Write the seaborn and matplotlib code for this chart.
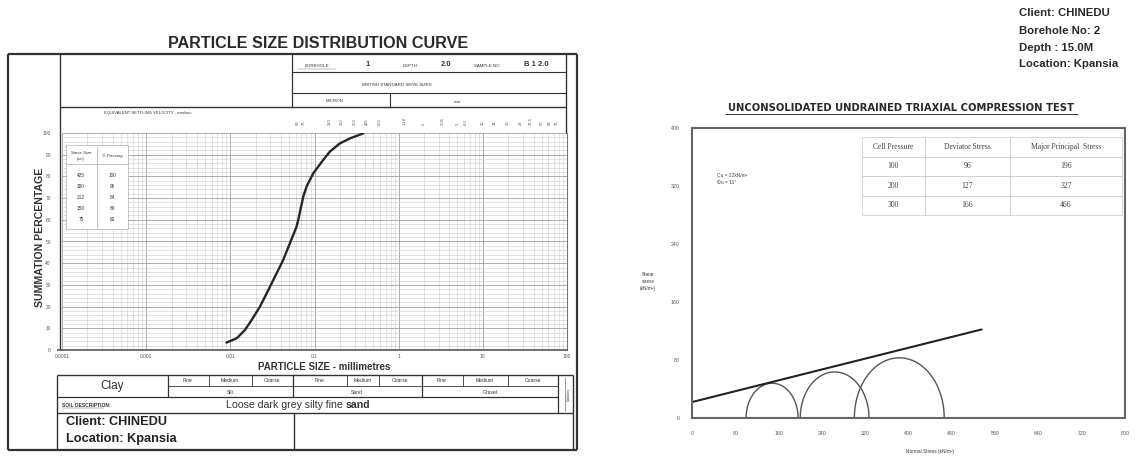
import numpy as np
import pandas as pd
import matplotlib
matplotlib.use('Agg')
import matplotlib.pyplot as plt
from matplotlib.ticker import FixedLocator, LogLocator, MultipleLocator, NullFormatter
import seaborn as sns

# grading curve (mm, % passing)
grain_size_mm = [0.0090, 0.0119, 0.0149, 0.0179, 0.0225, 0.0270, 0.0339, 0.0425, 0.0510,
                 0.0612, 0.0641, 0.0735, 0.0805, 0.0966, 0.127, 0.152, 0.200, 0.263, 0.379]
percent_passing = [3.4, 5.4, 9.2, 13.8, 20.0, 26.1, 33.8, 41.5, 49.2,
                   56.8, 59.9, 70.7, 75.3, 81.4, 87.6, 91.4, 95.2, 97.5, 99.8]

# small sieve table inside the grading chart
sieve_um = ['425', '300', '212', '150', '75']
sieve_passing = ['100', '96', '84', '80', '60']

size_ticks = [0.0001, 0.001, 0.01, 0.1, 1, 10, 100]
size_tick_labels = ['0.0001', '0.001', '0.01', '0.1', '1', '10', '100']
bs_sieves_um = [63, 75, 150, 212, 300, 425, 600]
bs_sieves_mm = [1.18, 2, 3.35, 5, 6.3, 10, 14, 20, 28, 37.5, 50, 63, 75]

# triaxial test
cell_pressure = [100, 200, 300]
deviator_stress = [96, 127, 166]
major_principal = [196, 327, 466]
cohesion = 22          # kN/m2
friction_deg = 10.6
envelope_end = 535

W, H = 1136, 461
DARK = '#333333'

sns.set_style('white')
plt.rcParams['font.family'] = ['Liberation Sans', 'DejaVu Sans']


def rect(x0, y0, x1, y1):
    return [x0 / W, 1 - y1 / H, (x1 - x0) / W, (y1 - y0) / H]


fig = plt.figure(figsize=(W / 100, H / 100), dpi=100)

# ---------------- particle size distribution ----------------
ax1 = fig.add_axes(rect(62, 133, 567, 350))
psd = pd.DataFrame({'size': grain_size_mm, 'passing': percent_passing})
sns.lineplot(data=psd, x='size', y='passing', ax=ax1, color='#262626', lw=1.7, zorder=4)
ax1.set_xscale('log')
ax1.set_xlim(1e-4, 100)
ax1.set_ylim(0, 100)
ax1.xaxis.set_major_locator(FixedLocator(size_ticks))
ax1.set_xticklabels(size_tick_labels)
ax1.xaxis.set_minor_locator(LogLocator(base=10, subs=range(2, 10), numticks=20))
ax1.xaxis.set_minor_formatter(NullFormatter())
ax1.yaxis.set_major_locator(MultipleLocator(10))
ax1.yaxis.set_minor_locator(MultipleLocator(2))
ax1.grid(which='major', color='#a0a0a0', lw=0.6)
ax1.grid(which='minor', color='#cccccc', lw=0.4)
ax1.tick_params(which='both', length=0)
ax1.tick_params(axis='x', labelsize=3.5, colors='#555', pad=3)
ax1.tick_params(axis='y', labelsize=3.5, colors='#555', pad=8)
ax1.set_xlabel('')
ax1.set_ylabel('')
for s in ['top', 'left']:
    ax1.spines[s].set_visible(False)
ax1.spines['bottom'].set_color('#555')
ax1.spines['bottom'].set_linewidth(1.2)
ax1.spines['right'].set_color('#777')
ax1.spines['right'].set_linewidth(0.8)

trans = ax1.get_xaxis_transform()
for s in bs_sieves_um:
    ax1.text(s / 1000, 1.035, str(s), transform=trans, rotation=90, fontsize=3,
             color='#555', ha='center', va='bottom')
for s in bs_sieves_mm:
    ax1.text(s, 1.035, str(s), transform=trans, rotation=90, fontsize=3,
             color='#555', ha='center', va='bottom')

# ---------------- triaxial Mohr circles ----------------
ax2 = fig.add_axes(rect(692, 128, 1125, 418))
t = np.linspace(0, np.pi, 120)
circles = []
for s3, s1 in zip(cell_pressure, major_principal):
    c, r = (s1 + s3) / 2, (s1 - s3) / 2
    circles.append(pd.DataFrame({'sigma': c + r * np.cos(t), 'tau': r * np.sin(t), 'test': s3}))
circles = pd.concat(circles)
sns.lineplot(data=circles, x='sigma', y='tau', units='test', estimator=None, sort=False,
             ax=ax2, color='#555555', lw=1.0)
sig = np.array([0, envelope_end])
env = pd.DataFrame({'sigma': sig, 'tau': cohesion + sig * np.tan(np.radians(friction_deg))})
sns.lineplot(data=env, x='sigma', y='tau', ax=ax2, color='#222222', lw=1.5)
ax2.set_xlim(0, 800)
ax2.set_ylim(0, 400)
ax2.set_xticks(range(0, 801, 80))
ax2.set_yticks(range(0, 401, 80))
ax2.tick_params(labelsize=3.8, colors='#555', length=2, width=0.4, pad=7)
ax2.set_xlabel('')
ax2.set_ylabel('')
for s in ax2.spines.values():
    s.set_color('#666')
    s.set_linewidth(1.5)

ax2.text(0.058, 0.825, f'Cu = {cohesion}kN/m²\nΦu = 11°', transform=ax2.transAxes,
         fontsize=3.5, color='#444', va='center', linespacing=1.4)

tbl_rows = [[str(a), str(b), str(c)] for a, b, c in zip(cell_pressure, deviator_stress, major_principal)]
tbl = ax2.table(cellText=tbl_rows,
                colLabels=['Cell Pressure', 'Deviator Stress', 'Major Principal  Stress'],
                colWidths=[0.24, 0.33, 0.43], cellLoc='center',
                bbox=[0.393, 0.70, 0.60, 0.268])
tbl.auto_set_font_size(False)
for (r, c), cell in tbl.get_celld().items():
    cell.set_edgecolor('#c8c8c8')
    cell.set_linewidth(0.5)
    cell.get_text().set_fontsize(5.5)
    cell.get_text().set_color('#444')
    cell.get_text().set_fontfamily(['Liberation Serif', 'DejaVu Serif'])

# ---------------- form / frames (pixel overlay) ----------------
lay = fig.add_axes([0, 0, 1, 1], zorder=5)
lay.set_xlim(0, W)
lay.set_ylim(H, 0)
lay.axis('off')
lay.patch.set_alpha(0)


def hl(y, x0, x1, lw=0.8, c=DARK):
    lay.plot([x0, x1], [y, y], color=c, lw=lw, solid_capstyle='butt')


def vl(x, y0, y1, lw=0.8, c=DARK):
    lay.plot([x, x], [y0, y1], color=c, lw=lw, solid_capstyle='butt')


def tx(x, y, s, size=4, **kw):
    kw.setdefault('ha', 'center')
    kw.setdefault('va', 'center')
    kw.setdefault('color', '#333')
    lay.text(x, y, s, fontsize=size, **kw)


# outer frame
hl(54, 8, 577, 1.6)
hl(450, 8, 577, 1.6)
vl(8, 54, 450, 1.6)
vl(577, 54, 450, 1.6)
vl(60, 54, 350, 1.0)
vl(566, 54, 133, 1.0)
hl(107, 60, 566, 1.0)

# header block
vl(292, 54, 107, 0.9)
hl(72, 292, 566, 0.8)
hl(93, 292, 566, 0.8)
vl(390, 93, 107, 0.8)
tx(317, 66, 'BOREHOLE', 3.2)
hl(69, 298, 336, 0.3, '#666')
tx(368, 64, '1', 5.5, fontweight='bold')
tx(410, 66, 'DEPTH', 3.2)
tx(446, 64, '2.0', 5.5, fontweight='bold')
tx(487, 66, 'SAMPLE NO', 3.2)
tx(536, 64, 'B 1 2.0', 5.5, fontweight='bold')
tx(397, 85, 'BRITISH STANDARD SIEVE SIZES', 3.2)
tx(335, 101, 'MICRON', 3.2)
tx(457, 102, 'mm', 3.2)
tx(148, 113, 'EQUIVALENT SETTLING VELOCITY - mm/sec', 3.0)

# titles
tx(318, 44, 'PARTICLE SIZE DISTRIBUTION CURVE', 11.6, fontweight='bold', color='#2a2a2a')
tx(40, 237, 'SUMMATION PERCENTAGE', 7.6, fontweight='bold', rotation=90)
tx(324, 367, 'PARTICLE SIZE - millimetres', 7, fontweight='bold')
hl(350, 57, 62, 1.2, '#555')

# sieve inset table
lay.add_patch(plt.Rectangle((66, 145), 62, 84, facecolor='white', edgecolor='#999', lw=0.4, zorder=1))
vl(97, 147, 229, 0.4, '#999')
hl(164, 66, 128, 0.4, '#999')
tx(81, 153, 'Sieve Size', 3.2)
tx(81, 159, '(µm)', 2.6)
tx(112, 156, '% Passing', 3.2)
for i, (a, b) in enumerate(zip(sieve_um, sieve_passing)):
    tx(81, 175 + i * 11, a, 3.4)
    tx(112, 175 + i * 11, b, 3.4)

# soil classification table
hl(375, 57, 573, 1.0)
hl(413, 57, 573, 1.0)
vl(57, 375, 450, 1.0)
vl(573, 375, 450, 1.0)
hl(397, 57, 558, 0.9)
hl(386, 168, 558, 0.6)
for x in [168, 293, 422, 558]:
    vl(x, 375, 397 if x != 558 else 413, 0.9)
vl(565, 377, 411, 0.5, '#777')
for x in [209, 252, 347, 379, 463, 508]:
    vl(x, 375, 386, 0.6)
tx(112, 386, 'Clay', 8.5)
for xs in [(188, 230, 272), (320, 363, 400), (442, 485, 533)]:
    for x, lab in zip(xs, ['Fine', 'Medium', 'Coarse']):
        tx(x, 380.5, lab, 3.6)
tx(230, 392, 'Silt', 3.6)
tx(357, 392, 'Sand', 3.6)
tx(490, 392, 'Gravel', 3.6)
tx(569, 394, 'Cobbles', 2.6, rotation=90)
tx(62, 405, 'SOIL DESCRIPTION:', 3.6, ha='left', fontweight='bold')
hl(408, 62, 104, 0.3, '#555')
tx(346, 405, 'Loose dark grey silty fine ', 7.6, ha='right')
tx(346, 405, 'sand', 7.6, ha='left', fontweight='bold')
vl(294, 413, 450, 1.0)
tx(66, 422, 'Client: CHINEDU', 9.2, ha='left', fontweight='bold', color='#222')
tx(66, 439, 'Location: Kpansia', 9.2, ha='left', fontweight='bold', color='#222')

# right panel texts
tx(901, 108, 'UNCONSOLIDATED UNDRAINED TRIAXIAL COMPRESSION TEST', 7.2,
   fontweight='bold', family=['DejaVu Sans'], color='#2a2a2a')
hl(114, 725, 1078, 0.7, '#333')
for y, s in zip([13, 31, 48, 64], ['Client: CHINEDU', 'Borehole No: 2', 'Depth : 15.0M', 'Location: Kpansia']):
    tx(1019, y, s, 8.2, ha='left', fontweight='bold', color='#2a2a2a')
tx(648, 281, 'Shear\nstress\n(kN/m²)', 3.4, linespacing=1.5)
tx(930, 451, 'Normal Stress (kN/m²)', 3.4)

fig.savefig('out.png', dpi=100, facecolor='white')
